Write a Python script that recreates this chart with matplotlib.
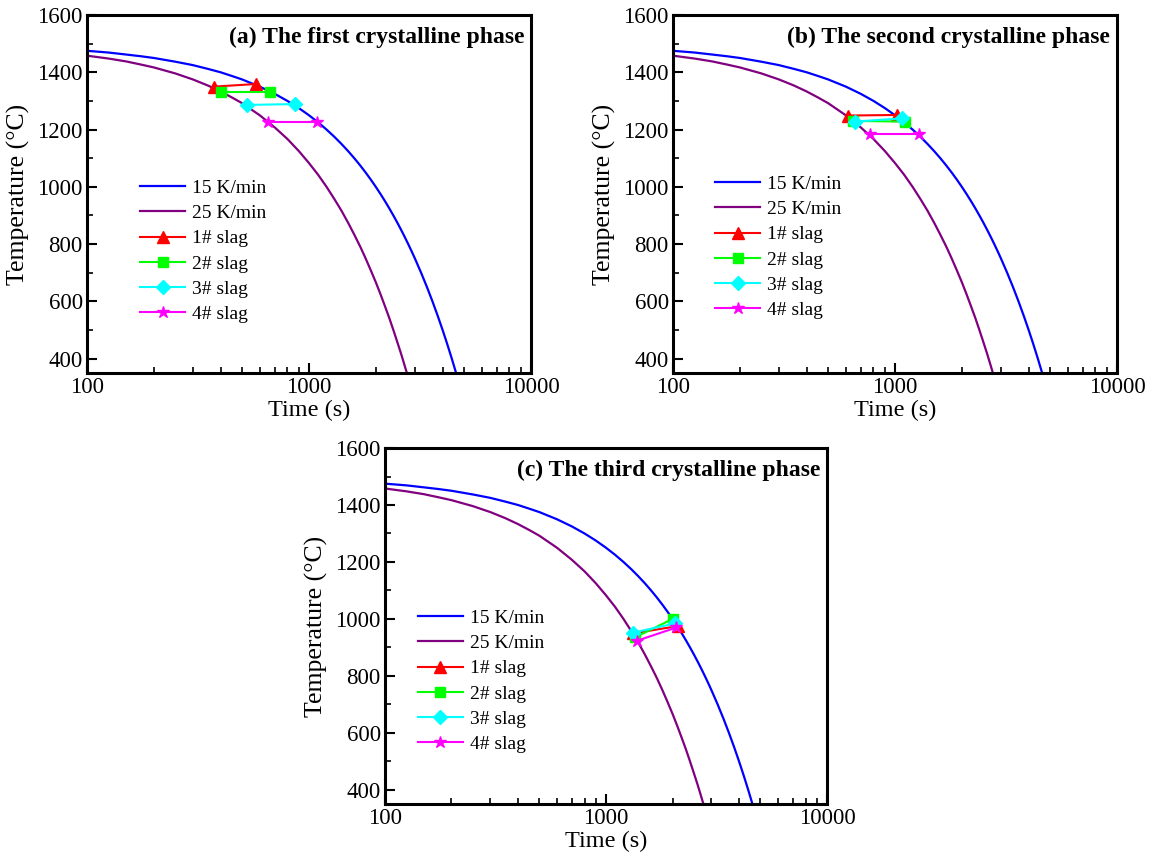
import matplotlib
matplotlib.use("Agg")
import matplotlib.pyplot as plt
from matplotlib.ticker import MultipleLocator, LogLocator, NullFormatter, FixedFormatter, FixedLocator

plt.rcParams['font.family'] = ['Liberation Serif', 'DejaVu Serif']

# cooling curves (time in s, temperature in C)
time_15k = [60, 80, 100, 125, 150, 175, 200, 250, 300, 350, 400, 450, 500, 600, 700, 800, 900,
            1000, 1100, 1200, 1300, 1400, 1500, 1600, 1700, 1800, 1900, 2000, 2100, 2200, 2300,
            2400, 2500, 2600, 2700, 2800, 2900, 3000, 3200, 3400, 3600, 3800, 4000, 4200, 4400, 4600]
temp_15k = [1485, 1480, 1475, 1469, 1462, 1456, 1450, 1437, 1425, 1412, 1400, 1387, 1375, 1350, 1325, 1300, 1275,
            1250, 1225, 1200, 1175, 1150, 1125, 1100, 1075, 1050, 1025, 1000, 975, 950, 925,
            900, 875, 850, 825, 800, 775, 750, 700, 650, 600, 550, 500, 450, 400, 350]
time_25k = [60, 80, 100, 125, 150, 175, 200, 250, 300, 350, 400, 450, 500, 600, 700, 800, 900,
            1000, 1100, 1200, 1300, 1400, 1500, 1600, 1700, 1800, 1900, 2000, 2100, 2200, 2300,
            2400, 2500, 2600, 2700, 2760]
temp_25k = [1475, 1467, 1458, 1448, 1438, 1427, 1417, 1396, 1375, 1354, 1333, 1312, 1292, 1250, 1208, 1167, 1125,
            1083, 1042, 1000, 958, 917, 875, 833, 792, 750, 708, 667, 625, 583, 542,
            500, 458, 417, 375, 350]

slag_labels = ['1# slag', '2# slag', '3# slag', '4# slag']

# onset points of each crystalline phase: [25 K/min, 15 K/min]
phase1_time = [[373, 577], [400, 667], [524, 865], [656, 1084]]
phase1_temp = [[1350, 1359], [1331, 1331], [1286, 1289], [1228, 1228]]

phase2_time = [[617, 1024], [649, 1110], [661, 1072], [771, 1282]]
phase2_temp = [[1249, 1251], [1230, 1228], [1228, 1239], [1185, 1185]]

phase3_time = [[1321, 2118], [1352, 2004], [1330, 2050], [1377, 2085]]
phase3_temp = [[949, 975], [935, 1000], [952, 984], [923, 970]]

titles = ['(a) The first crystalline phase', '(b) The second crystalline phase',
          '(c) The third crystalline phase']

slag_colors = ['#FF0000', '#00FF00', '#00FFFF', '#FF00FF']
slag_markers = ['^', 's', 'D', '*']
slag_msize = [8, 7, 7, 9]

fig = plt.figure(figsize=(11.55, 8.58), dpi=100)
ax_a = fig.add_axes([0.0753, 0.5653, 0.3844, 0.4172])
ax_b = fig.add_axes([0.5827, 0.5653, 0.3844, 0.4172])
ax_c = fig.add_axes([0.3333, 0.0629, 0.3827, 0.4149])

panels = [
    (ax_a, phase1_time, phase1_temp, titles[0], (0.12, 0.541)),
    (ax_b, phase2_time, phase2_temp, titles[1], (0.095, 0.552)),
    (ax_c, phase3_time, phase3_temp, titles[2], (0.075, 0.547)),
]

for ax, ptime, ptemp, title, leg_pos in panels:
    ax.plot(time_15k, temp_15k, color='#0000FF', lw=1.6, label='15 K/min')
    ax.plot(time_25k, temp_25k, color='#800080', lw=1.6, label='25 K/min')
    for i in range(len(slag_labels)):
        ax.plot(ptime[i], ptemp[i], color=slag_colors[i], marker=slag_markers[i],
                ms=slag_msize[i], lw=1.5, label=slag_labels[i])

    ax.set_xscale('log')
    ax.set_xlim(100, 10000)
    ax.set_ylim(350, 1600)
    ax.xaxis.set_major_locator(FixedLocator([100, 1000, 10000]))
    ax.xaxis.set_major_formatter(FixedFormatter(['100', '1000', '10000']))
    ax.xaxis.set_minor_locator(LogLocator(base=10, subs=range(2, 10)))
    ax.xaxis.set_minor_formatter(NullFormatter())
    ax.yaxis.set_major_locator(MultipleLocator(200))
    ax.yaxis.set_minor_locator(MultipleLocator(100))

    ax.tick_params(which='both', direction='in', top=False, right=False, labelsize=16.5)
    ax.tick_params(which='major', length=7, width=1.5, pad=3)
    ax.tick_params(which='minor', length=4, width=1.2)
    for sp in ax.spines.values():
        sp.set_linewidth(2.2)

    ax.set_xlabel('Time (s)', fontsize=17.5, labelpad=1)
    ax.set_ylabel('Temperature (\u00b0C)', fontsize=18.5, labelpad=5)

    ax.text(0.985, 0.968, title, transform=ax.transAxes, ha='right', va='top',
            fontsize=17, fontweight='bold')

    ax.legend(loc='upper left', bbox_to_anchor=leg_pos, frameon=False, fontsize=14,
              handlelength=2.3, handletextpad=0.35, labelspacing=0.39,
              borderpad=0, borderaxespad=0, numpoints=1)

fig.savefig('out.png', dpi=100)
